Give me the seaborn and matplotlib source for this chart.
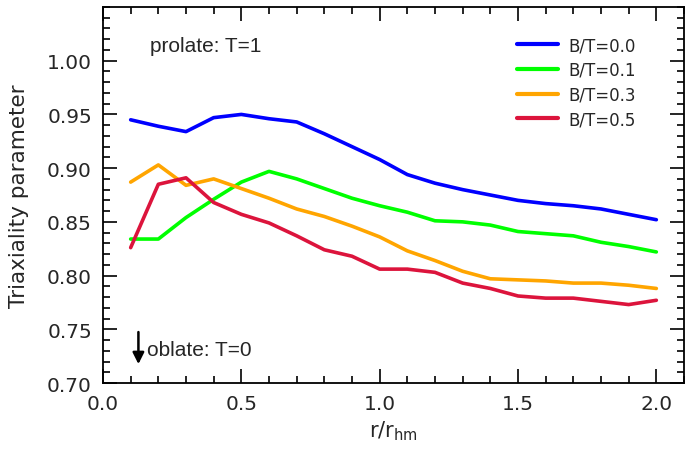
import numpy as np
import pandas as pd
import matplotlib
matplotlib.use("Agg")
import matplotlib.pyplot as plt
import seaborn as sns
from matplotlib.ticker import MultipleLocator

r = [0.1, 0.2, 0.3, 0.4, 0.5, 0.6, 0.7, 0.8, 0.9, 1.0,
     1.1, 1.2, 1.3, 1.4, 1.5, 1.6, 1.7, 1.8, 1.9, 2.0]
bt00 = [0.945, 0.939, 0.934, 0.947, 0.950, 0.946, 0.943, 0.932, 0.920, 0.908,
        0.894, 0.886, 0.880, 0.875, 0.870, 0.867, 0.865, 0.862, 0.857, 0.852]
bt01 = [0.834, 0.834, 0.854, 0.871, 0.887, 0.897, 0.890, 0.881, 0.872, 0.865,
        0.859, 0.851, 0.850, 0.847, 0.841, 0.839, 0.837, 0.831, 0.827, 0.822]
bt03 = [0.887, 0.903, 0.884, 0.890, 0.881, 0.872, 0.862, 0.855, 0.846, 0.836,
        0.823, 0.814, 0.804, 0.797, 0.796, 0.795, 0.793, 0.793, 0.791, 0.788]
bt05 = [0.826, 0.885, 0.891, 0.868, 0.857, 0.849, 0.837, 0.824, 0.818, 0.806,
        0.806, 0.803, 0.793, 0.788, 0.781, 0.779, 0.779, 0.776, 0.773, 0.777]
labels = ["B/T=0.0", "B/T=0.1", "B/T=0.3", "B/T=0.5"]
colors = ["#0000ff", "#00ff00", "#ffa500", "#dc143c"]

df = pd.concat([pd.DataFrame({"r": r, "T": v, "model": lab})
                for v, lab in zip([bt00, bt01, bt03, bt05], labels)])

sns.set_theme(style="ticks")
plt.rcParams['font.family'] = ['DejaVu Sans']

fig = plt.figure(figsize=(6.86, 4.52), dpi=100)
ax = fig.add_axes([103/686, 1-384/452, (684-103)/686, (384-8)/452])

sns.lineplot(data=df, x="r", y="T", hue="model", palette=colors,
             hue_order=labels, linewidth=2.6, ax=ax, legend=True)

ax.set_xlim(0, 2.1)
ax.set_ylim(0.70, 1.05)
ax.xaxis.set_minor_locator(MultipleLocator(0.1))
ax.yaxis.set_minor_locator(MultipleLocator(0.01))
ax.set_xticks([0.0, 0.5, 1.0, 1.5, 2.0])
ax.set_xticklabels(["0.0", "0.5", "1.0", "1.5", "2.0"])
ax.set_yticks([0.70, 0.75, 0.80, 0.85, 0.90, 0.95, 1.00])
ax.set_yticklabels(["0.70", "0.75", "0.80", "0.85", "0.90", "0.95", "1.00"])
ax.tick_params(which="both", direction="in", top=True, right=True,
               labelsize=14.5, width=1.2, color="black")
ax.tick_params(which="major", length=10, pad=8)
ax.tick_params(which="minor", length=5)
for s in ax.spines.values():
    s.set_linewidth(1.3)
    s.set_color("black")

ax.set_xlabel(r"r/r$_{\rm hm}$", fontsize=15, labelpad=4)
ax.set_ylabel("Triaxiality parameter", fontsize=15.5, labelpad=13)

leg = ax.legend(loc="upper left", frameon=False, fontsize=12,
                handlelength=2.5, handletextpad=0.6, labelspacing=0.4,
                borderpad=0, borderaxespad=0,
                bbox_to_anchor=(0.712, 0.922))
for line in leg.get_lines():
    line.set_linewidth(3)

ax.text(0.17, 1.0145, "prolate: T=1", fontsize=15, family="Liberation Sans",
        va="center", ha="left")
ax.annotate("", xy=(0.128, 0.715), xytext=(0.128, 0.750),
            arrowprops=dict(arrowstyle="-|>", color="black", lw=1.8,
                            mutation_scale=17))
ax.text(0.16, 0.731, "oblate: T=0", fontsize=15, family="Liberation Sans",
        va="center", ha="left")

fig.savefig("out.png", dpi=100)
